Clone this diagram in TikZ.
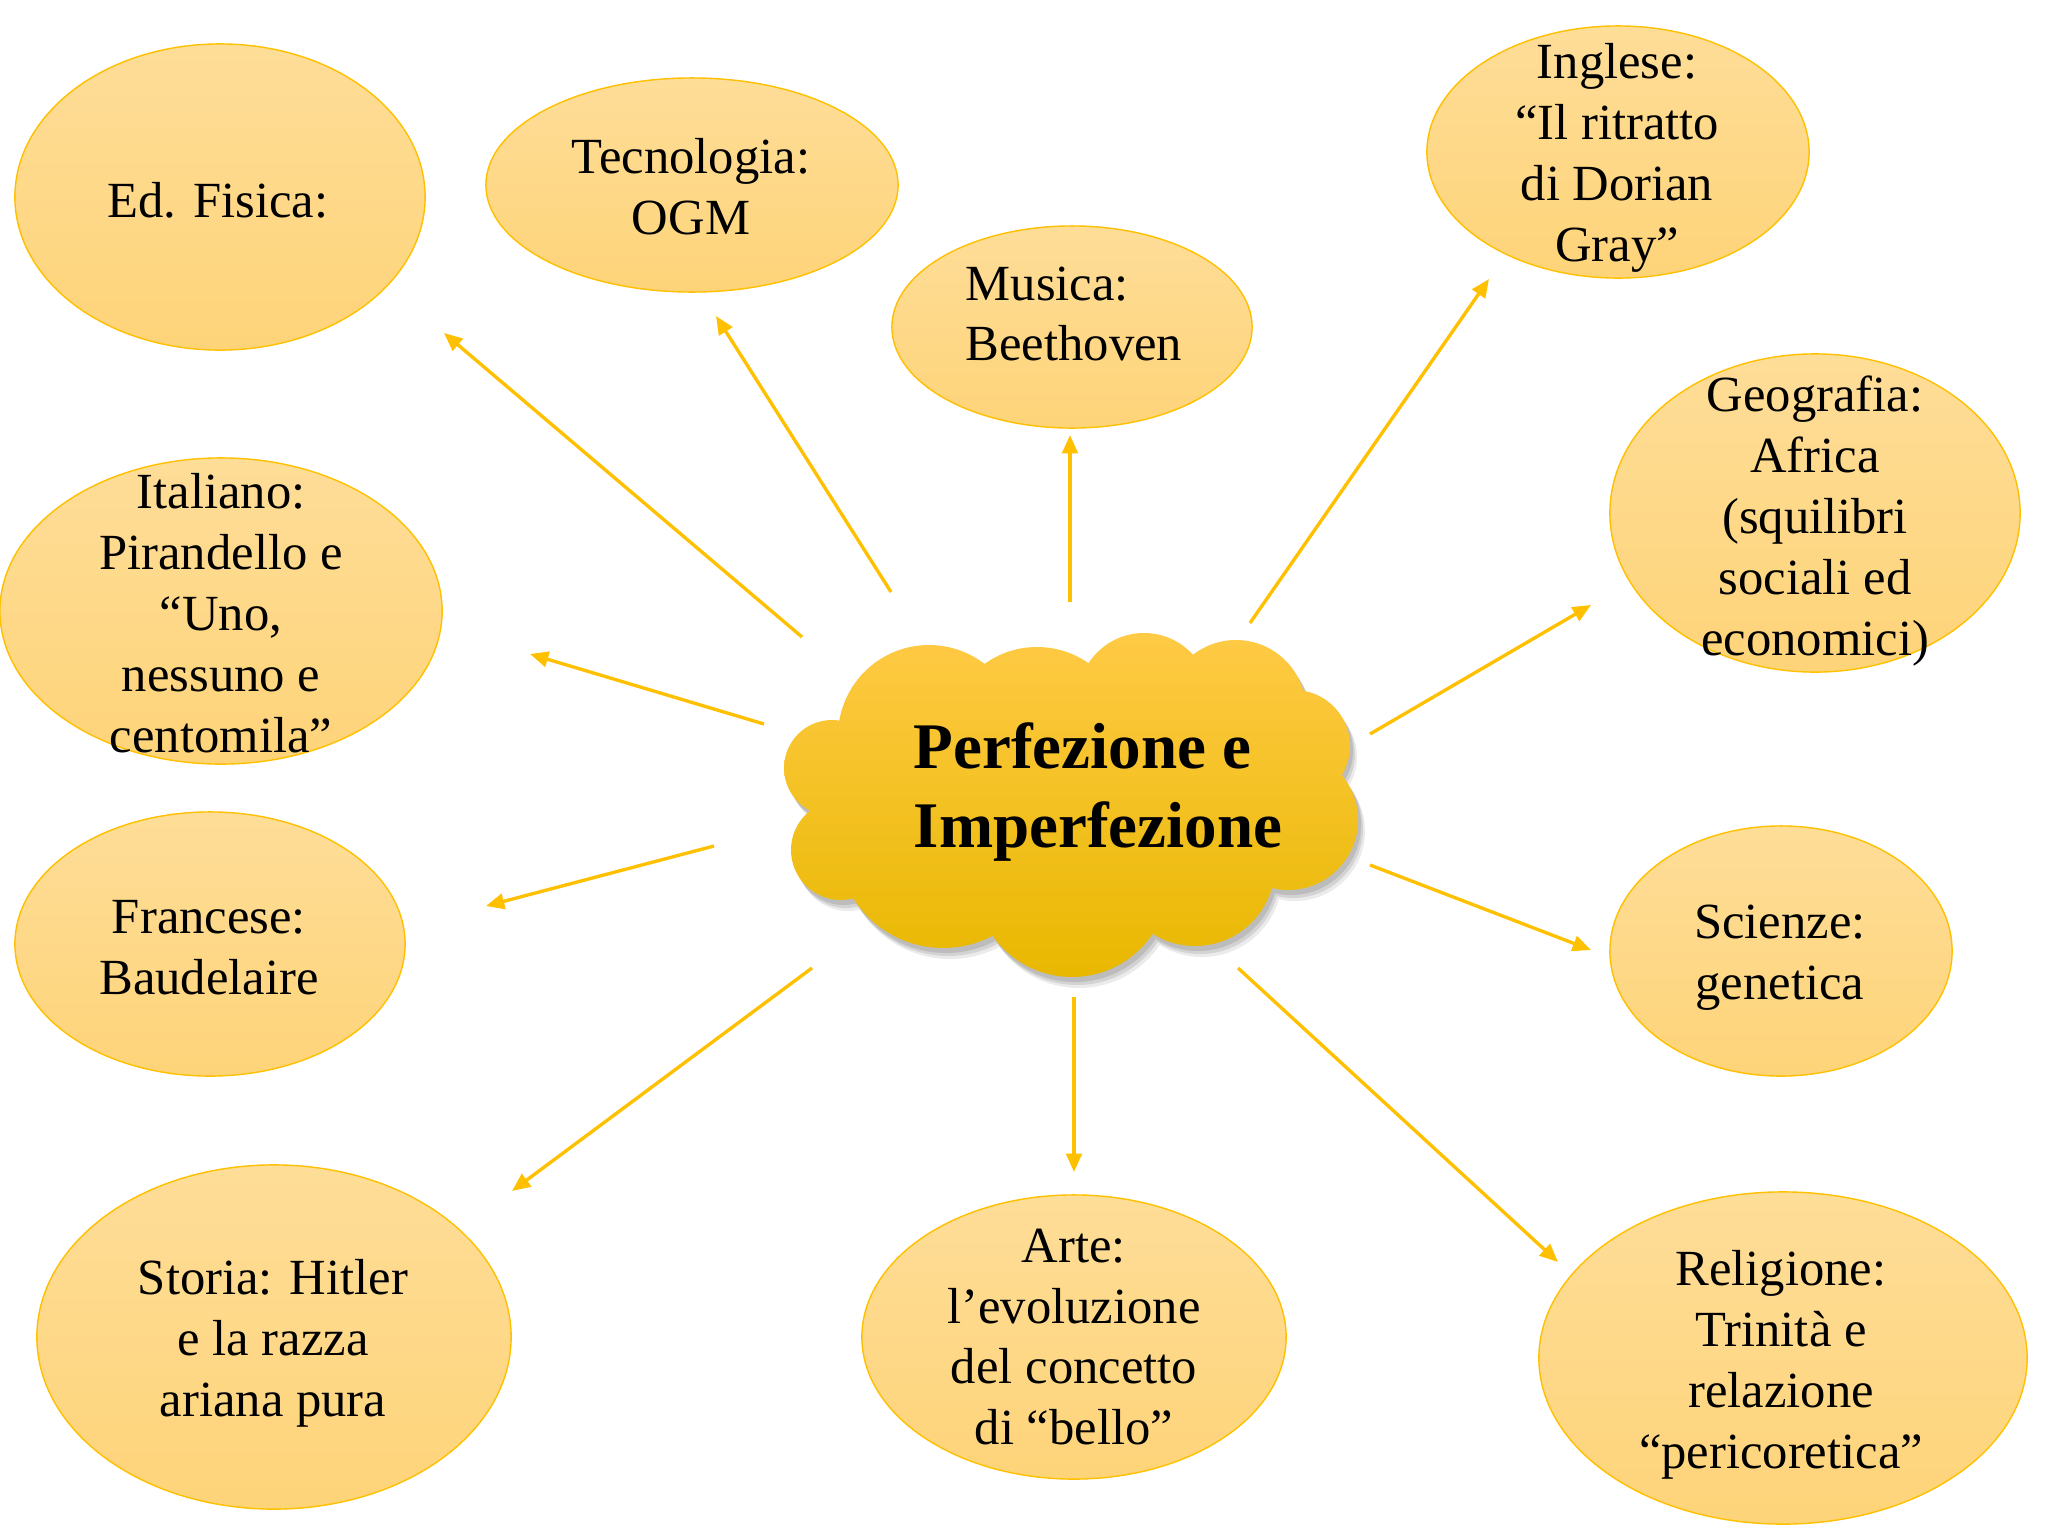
\documentclass[tikz,border=0pt]{standalone}
\usepackage{fontspec}
\setmainfont{Liberation Serif}
\usetikzlibrary{arrows.meta,shapes.geometric}
\definecolor{arrowc}{HTML}{FFC000}
\definecolor{bubtop}{HTML}{FEDD98}
\definecolor{bubbot}{HTML}{FED479}
\definecolor{cloudtop}{HTML}{FFCA45}
\definecolor{cloudmid}{HTML}{FFC700}
\definecolor{cloudbot}{HTML}{E8B800}
\begin{document}
\begin{tikzpicture}[x=0.01cm,y=-0.01cm,
  bubble/.style={ellipse, draw=arrowc, line width=0.4pt, top color=bubtop, bottom color=bubbot, inner sep=0pt},
  txt/.style={align=center, font=\fontsize{14.4}{17.3}\selectfont, inner sep=0pt},
  link/.style={draw=arrowc, line width=0.95pt, -{Triangle[length=5.2pt,width=4.4pt]}}]
\useasboundingbox[fill=white] (0,0) rectangle (2048,1536);

% ellipses
\node[bubble, minimum width=4.10cm, minimum height=3.06cm] (fis) at (220,197) {};
\node[bubble, minimum width=4.12cm, minimum height=2.14cm] (tec) at (692,185) {};
\node[bubble, minimum width=3.60cm, minimum height=2.02cm] (mus) at (1072,327) {};
\node[bubble, minimum width=3.82cm, minimum height=2.52cm] (ing) at (1618,152) {};
\node[bubble, minimum width=4.10cm, minimum height=3.18cm] (geo) at (1815,513) {};
\node[bubble, minimum width=4.42cm, minimum height=3.06cm] (ita) at (221,611) {};
\node[bubble, minimum width=3.90cm, minimum height=2.64cm] (fra) at (210,944) {};
\node[bubble, minimum width=3.42cm, minimum height=2.50cm] (sci) at (1781,951) {};
\node[bubble, minimum width=4.74cm, minimum height=3.44cm] (sto) at (274,1337) {};
\node[bubble, minimum width=4.24cm, minimum height=2.84cm] (art) at (1074,1337) {};
\node[bubble, minimum width=4.88cm, minimum height=3.32cm] (rel) at (1783,1358) {};

% texts
\node[txt] (fis-t) at (218,200) {Ed. Fisica:};
\node[txt] (tec-t) at (691,187) {Tecnologia:\\OGM};
\node[txt, align=left] (mus-t) at (1074,314) {Musica:\\Beethoven};
\node[txt] (ing-t) at (1617,158) {Inglese:\\“Il ritratto\\di Dorian\\Gray”};
\node[txt] (geo-t) at (1815,521) {Geografia:\\Africa\\(squilibri\\sociali ed\\economici)};
\node[txt] (ita-t) at (221,613) {Italiano:\\Pirandello e\\“Uno,\\nessuno e\\centomila”};
\node[txt] (fra-t) at (209,948) {Francese:\\Baudelaire};
\node[txt] (sci-t) at (1780,958) {Scienze:\\genetica};
\node[txt] (sto-t) at (273,1343) {Storia: Hitler\\e la razza\\ariana pura};
\node[txt] (art-t) at (1074,1337) {Arte:\\l’evoluzione\\del concetto\\di “bello”};
\node[txt] (rel-t) at (1781,1365) {Religione:\\Trinità e\\relazione\\“pericoretica”};

% cloud shadow
\foreach \sx/\sy/\op in {3/5/0.10, 5/8/0.10, 7/11/0.08}{
  \fill[black, opacity=\op, shift={(\sx,\sy)}]
    \foreach \cx/\cy/\r in {832/768/48, 841/850/50, 943/842/106, 1072/880/97, 1195/866/80, 1288/820/70, 1294/746/56, 1236/710/70, 1144/699/66, 1037/737/90, 929/736/91}{ (\cx,\cy) circle (\r) }
    (1071,805) ellipse (200 and 110);
}
% cloud
\shade[top color=cloudtop, middle color=cloudmid, bottom color=cloudbot]
  \foreach \cx/\cy/\r in {832/768/48, 841/850/50, 943/842/106, 1072/880/97, 1195/866/80, 1288/820/70, 1294/746/56, 1236/710/70, 1144/699/66, 1037/737/90, 929/736/91}{ (\cx,\cy) circle (\r) }
  (1071,805) ellipse (200 and 110);
\coordinate (cloud) at (1071,805);
\node[align=left, inner sep=0pt, font=\fontsize{18.5}{22.2}\selectfont\bfseries] (ctitle) at (1098,792) {Perfezione e\\Imperfezione};

% arrow ends
\coordinate (s-fis) at (802,637);  \coordinate (e-fis) at (444,333);
\coordinate (s-tec) at (891,592);  \coordinate (e-tec) at (716,316);
\coordinate (s-mus) at (1070,602); \coordinate (e-mus) at (1070,435);
\coordinate (s-ing) at (1250,623); \coordinate (e-ing) at (1489,279);
\coordinate (s-geo) at (1370,734); \coordinate (e-geo) at (1591,605);
\coordinate (s-ita) at (764,724);  \coordinate (e-ita) at (530,654);
\coordinate (s-fra) at (714,846);  \coordinate (e-fra) at (486,906);
\coordinate (s-sci) at (1370,865); \coordinate (e-sci) at (1591,950);
\coordinate (s-sto) at (812,968);  \coordinate (e-sto) at (512,1191);
\coordinate (s-art) at (1074,997); \coordinate (e-art) at (1074,1172);
\coordinate (s-rel) at (1238,968); \coordinate (e-rel) at (1558,1262);

\foreach \n in {fis,tec,mus,ing,geo,ita,fra,sci,sto,art,rel}{
  \draw[link] (s-\n) -- (e-\n);
}
\end{tikzpicture}
\end{document}
